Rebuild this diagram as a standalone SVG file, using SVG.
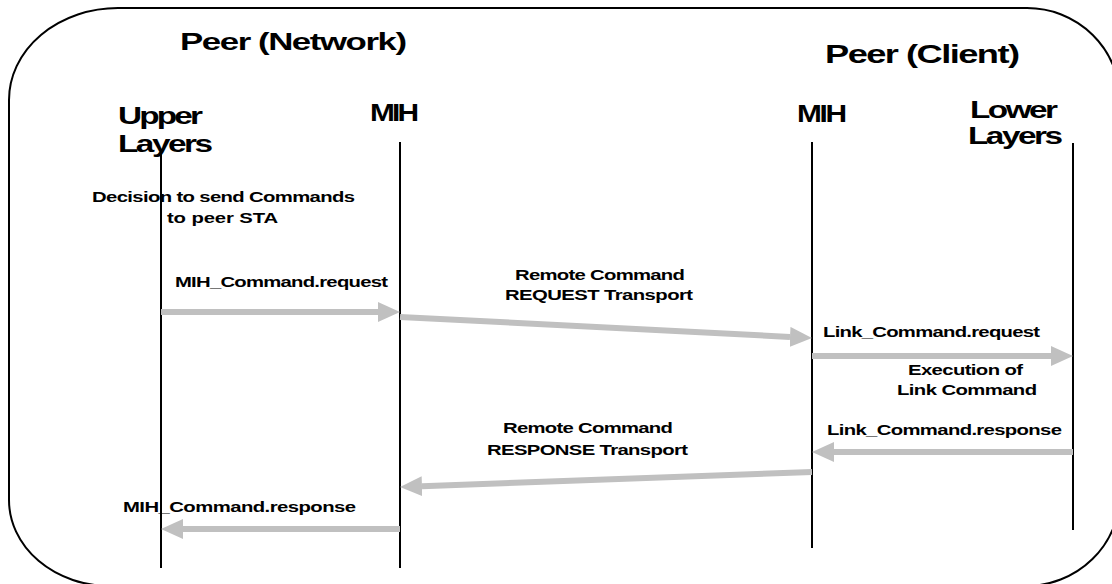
<svg xmlns="http://www.w3.org/2000/svg" width="1112" height="584" viewBox="0 0 1112 584">
<style>
  .t { font-family: "Liberation Sans", Arial, sans-serif; font-weight: bold; fill: #000; }
  .big { font-size: 24px; }
  .hd { font-size: 23px; }
  .sm { font-size: 14px; }
  .life { stroke: #000; stroke-width: 2; fill: none; }
  .arr { stroke: #c0c0c0; stroke-width: 6; fill: none; marker-end: url(#head); }
  .frame { stroke: #000; stroke-width: 2; fill: #fff; }
</style>
<defs>
  <marker id="head" markerUnits="userSpaceOnUse" viewBox="0 0 22 20" refX="0" refY="10" markerWidth="22" markerHeight="20" orient="auto">
    <path d="M0,0 L22,10 L0,20 Z" fill="#c0c0c0"/>
  </marker>
</defs>
<rect width="1112" height="584" fill="#fff"/>
<path id="frame" class="frame" d="M 118 8 H 1027 A 93 92 0 0 1 1120 100 V 494 A 94 92 0 0 1 1026 586 H 110 A 101 86 0 0 1 9 500 V 100 A 109 92 0 0 1 118 8 Z"/>

<g id="title-network">
  <text class="t big" transform="translate(180,50) scale(1.45,1)" textLength="156.6" lengthAdjust="spacing">Peer (Network)</text>
</g>
<g id="title-client">
  <text class="t big" style="font-size:25px" transform="translate(825,63) scale(1.45,1)" textLength="134.5" lengthAdjust="spacing">Peer (Client)</text>
</g>

<g id="upper-layers">
  <text class="t hd" transform="translate(118,124) scale(1.45,1)" textLength="58.6" lengthAdjust="spacing">Upper</text>
  <text class="t hd" transform="translate(118,152) scale(1.45,1)" textLength="65.5" lengthAdjust="spacing">Layers</text>
  <line class="life" x1="161" y1="150" x2="161" y2="568"/>
</g>
<g id="mih-network">
  <text class="t hd" transform="translate(370,121) scale(1.3,1)" textLength="37.7" lengthAdjust="spacing">MIH</text>
  <line class="life" x1="400" y1="142" x2="400" y2="568"/>
</g>
<g id="mih-client">
  <text class="t hd" transform="translate(797,122) scale(1.3,1)" textLength="38.5" lengthAdjust="spacing">MIH</text>
  <line class="life" x1="812" y1="142" x2="812" y2="548"/>
</g>
<g id="lower-layers">
  <text class="t hd" transform="translate(970,118) scale(1.45,1)" textLength="60.7" lengthAdjust="spacing">Lower</text>
  <text class="t hd" transform="translate(968,144) scale(1.45,1)" textLength="65.5" lengthAdjust="spacing">Layers</text>
  <line class="life" x1="1073" y1="143" x2="1073" y2="530"/>
</g>

<g id="decision-note">
  <text class="t sm" transform="translate(92,202) scale(1.45,1)" textLength="181.4" lengthAdjust="spacing">Decision to send Commands</text>
  <text class="t sm" transform="translate(167,223) scale(1.45,1)" textLength="76.6" lengthAdjust="spacing">to peer STA</text>
</g>
<g id="execution-note">
  <text class="t sm" transform="translate(908,375) scale(1.45,1)" textLength="79.3" lengthAdjust="spacing">Execution of</text>
  <text class="t sm" transform="translate(897,395) scale(1.45,1)" textLength="96.6" lengthAdjust="spacing">Link Command</text>
</g>

<g id="connectors">
  <line class="arr" x1="161" y1="312" x2="378" y2="312"/>
  <line class="arr" x1="400" y1="317" x2="790" y2="336.9"/>
  <line class="arr" x1="812" y1="356" x2="1051" y2="356"/>
  <line class="arr" x1="1073" y1="452" x2="834" y2="452"/>
  <line class="arr" x1="812" y1="472" x2="422" y2="486.2"/>
  <line class="arr" x1="400" y1="529" x2="183" y2="529"/>

  <text class="t sm" transform="translate(175,287) scale(1.45,1)" textLength="146.9" lengthAdjust="spacing">MIH_Command.request</text>
  <text class="t sm" transform="translate(515,280) scale(1.45,1)" textLength="117.2" lengthAdjust="spacing">Remote Command</text>
  <text class="t sm" transform="translate(505,300) scale(1.45,1)" textLength="129.7" lengthAdjust="spacing">REQUEST Transport</text>
  <text class="t sm" transform="translate(823,337) scale(1.45,1)" textLength="149.7" lengthAdjust="spacing">Link_Command.request</text>
  <text class="t sm" transform="translate(827,435) scale(1.45,1)" textLength="162.1" lengthAdjust="spacing">Link_Command.response</text>
  <text class="t sm" transform="translate(503,433) scale(1.45,1)" textLength="117.2" lengthAdjust="spacing">Remote Command</text>
  <text class="t sm" transform="translate(487,455) scale(1.45,1)" textLength="138.6" lengthAdjust="spacing">RESPONSE Transport</text>
  <text class="t sm" transform="translate(123,512) scale(1.45,1)" textLength="160.7" lengthAdjust="spacing">MIH_Command.response</text>
</g>
</svg>
